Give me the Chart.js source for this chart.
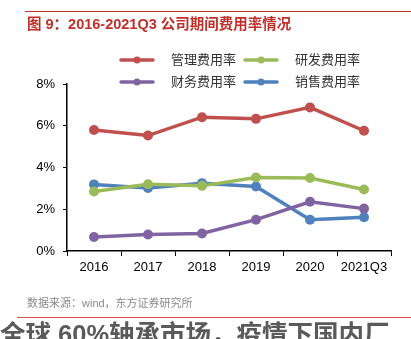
<!DOCTYPE html>
<html>
<head>
<meta charset="utf-8">
<script src="https://cdn.jsdelivr.net/npm/chart.js@4/dist/chart.umd.min.js"></script>
<style>
  html, body { margin: 0; padding: 0; background: #fff; }
  #wrap { position: relative; width: 411px; height: 339px; overflow: hidden; }
</style>
</head>
<body>
<div id="wrap"><canvas id="chart" width="411" height="339"></canvas></div>
<script>
// ---- data ----
const years = ['2016', '2017', '2018', '2019', '2020', '2021Q3'];
const mgmtRate  = [5.80, 5.53, 6.41, 6.33, 6.88, 5.76];   // 管理费用率
const rdRate    = [2.85, 3.20, 3.12, 3.52, 3.50, 2.95];   // 研发费用率
const finRate   = [0.67, 0.79, 0.84, 1.50, 2.36, 2.03];   // 财务费用率
const salesRate = [3.19, 3.02, 3.25, 3.09, 1.50, 1.62];   // 销售费用率
const yTicks = [0, 2, 4, 6, 8];

const titleText = '图 9：2016-2021Q3 公司期间费用率情况';
const sourceText = '数据来源：wind，东方证券研究所';
const nextHeading = '全球 60%轴承市场，疫情下国内厂';

const FONT = '"Liberation Sans", "Noto Sans CJK SC", sans-serif';

function series(label, data, color) {
    return {
        label: label,
        data: data,
        borderColor: color,
        backgroundColor: color,
        borderWidth: 3.5,
        pointRadius: 5,
        pointHoverRadius: 5,
        pointBorderWidth: 0,
        tension: 0
    };
}

// page furniture + two-column legend
const decorations = {
    id: 'decorations',
    afterDraw(chart) {
        const ctx = chart.ctx;
        ctx.save();

        // top rule and title
        ctx.fillStyle = '#c0302b';
        ctx.fillRect(25, 11, 386, 1);
        ctx.font = 'bold 14.5px ' + FONT;
        ctx.textBaseline = 'middle';
        ctx.fillStyle = '#c0302b';
        ctx.fillText(titleText, 27, 25);

        // legend
        const slots = [[120, 60], [244, 60], [120, 82], [244, 82]];
        chart.data.datasets.forEach((ds, i) => {
            const [x, y] = slots[i];
            ctx.strokeStyle = ds.borderColor;
            ctx.lineWidth = 3.5;
            ctx.lineCap = 'round';
            ctx.beginPath();
            ctx.moveTo(x + 1, y);
            ctx.lineTo(x + 33, y);
            ctx.stroke();
            ctx.fillStyle = ds.borderColor;
            ctx.beginPath();
            ctx.arc(x + 17, y, 3.5, 0, Math.PI * 2);
            ctx.fill();
            ctx.fillStyle = '#333';
            ctx.font = '13px ' + FONT;
            ctx.fillText(ds.label, x + 51, y);
        });

        // source line and rule
        ctx.fillStyle = '#8a8a8a';
        ctx.font = '11px ' + FONT;
        ctx.fillText(sourceText, 27, 304);
        ctx.fillStyle = '#d9534f';
        ctx.fillRect(17, 317, 394, 1);

        // next section heading, cut off by the page edge
        ctx.fillStyle = '#5a5a5a';
        ctx.font = 'bold 25.5px ' + FONT;
        ctx.fillText(nextHeading, 0, 336);
        ctx.restore();
    }
};

new Chart(document.getElementById('chart'), {
    type: 'line',
    data: {
        labels: years,
        datasets: [
            series('管理费用率', mgmtRate, '#c0504d'),
            series('研发费用率', rdRate, '#9bbb59'),
            series('财务费用率', finRate, '#8064a2'),
            series('销售费用率', salesRate, '#4f81bd')
        ]
    },
    options: {
        responsive: false,
        animation: false,
        events: [],
        layout: { padding: { top: 84, right: 20, left: 0, bottom: 0 } },
        plugins: {
            legend: { display: false },
            title: { display: false },
            tooltip: { enabled: false }
        },
        scales: {
            x: {
                offset: true,
                grid: {
                    offset: true,
                    drawOnChartArea: false,
                    drawTicks: true,
                    tickLength: 5,
                    color: '#000'
                },
                border: { color: '#000', width: 1.5 },
                ticks: { color: '#000', font: { size: 13, family: FONT }, padding: 4, maxRotation: 0 },
                afterFit(scale) { scale.height = 88; }
            },
            y: {
                min: 0,
                max: 8,
                afterBuildTicks(scale) { scale.ticks = yTicks.map(v => ({ value: v })); },
                grid: {
                    drawOnChartArea: false,
                    drawTicks: true,
                    tickLength: 4,
                    color: '#000'
                },
                border: { color: '#000', width: 1.5 },
                ticks: {
                    color: '#000',
                    font: { size: 13, family: FONT },
                    padding: 8,
                    callback: v => v + '%'
                },
                afterFit(scale) { scale.width = 67; }
            }
        }
    },
    plugins: [decorations]
});
</script>
</body>
</html>
